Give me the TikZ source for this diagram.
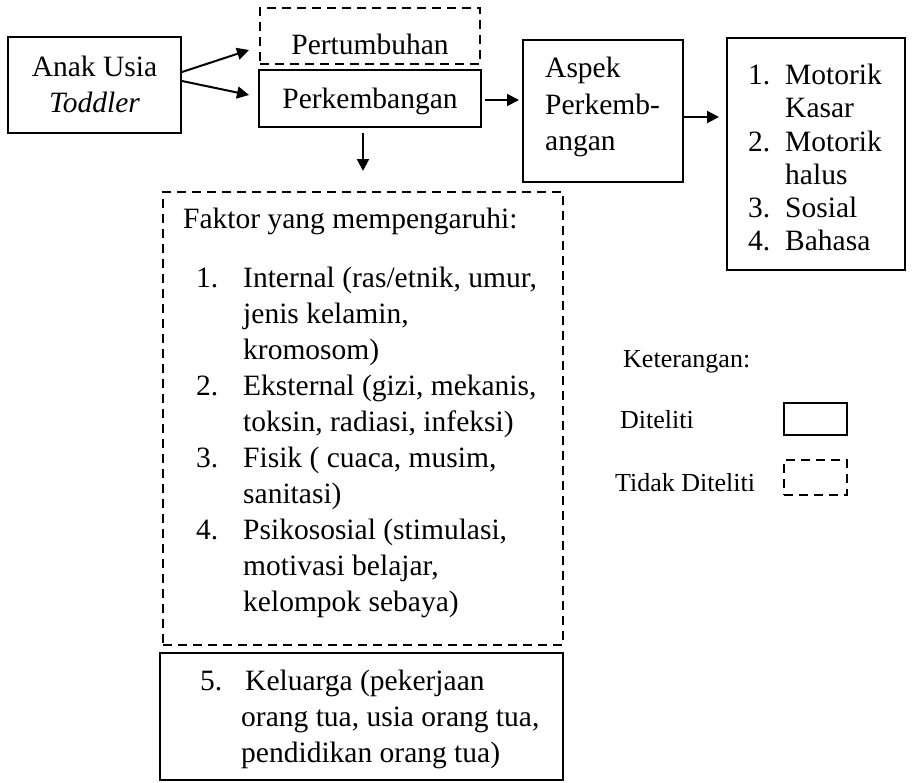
\documentclass[tikz,border=0pt]{standalone}
\usepackage{fontspec}
\setmainfont{Liberation Serif}
\usetikzlibrary{arrows.meta}
\begin{document}
\begin{tikzpicture}[x=1pt,y=-1pt,
  box/.style={draw, line width=2pt, inner sep=0pt},
  dbox/.style={box, dash pattern=on 9pt off 6pt},
  txt/.style={inner sep=0pt, anchor=base west, font=\fontsize{29.5}{36}\selectfont},
  ctxt/.style={txt, anchor=base},
  ltxt/.style={txt, font=\fontsize{26}{32}\selectfont},
  arr/.style={line width=2pt, -{Triangle[length=12pt,width=12pt]}}]
\useasboundingbox (0,0) rectangle (915,782);
% boxes
\node[box, minimum width=173pt, minimum height=96pt] (anak) at (94.5,85) {};
\node[dbox, minimum width=220pt, minimum height=56pt] (pert) at (370,36) {};
\node[box, minimum width=222pt, minimum height=57pt] (perk) at (370,98.5) {};
\node[box, minimum width=160pt, minimum height=142pt] (aspek) at (603,111) {};
\node[box, minimum width=178pt, minimum height=232pt] (list) at (816,154) {};
\node[dbox, minimum width=400pt, minimum height=453pt] (faktor) at (363,418.5) {};
\node[box, minimum width=403pt, minimum height=127pt] (kel) at (361.5,716.5) {};
\node[box, minimum width=63pt, minimum height=32pt] (dit) at (815.5,419) {};
\node[dbox, minimum width=63pt, minimum height=35pt] (tdk) at (815.5,477.5) {};
% texts
\node[ctxt] (t1) at (94.5,76) {Anak Usia};
\node[ctxt] (t2) at (94.5,112) {\itshape Toddler};
\node[ctxt] (t3) at (370,54) {Pertumbuhan};
\node[ctxt] (t4) at (370,108) {Perkembangan};
\node[txt] (a1) at (545,77) {Aspek};
\node[txt] (a2) at (545,114) {Perkemb-};
\node[txt] (a3) at (545,150) {angan};
\node[txt] (m1n) at (748,84) {1.};
\node[txt] (m1) at (785,84) {Motorik};
\node[txt] (m1b) at (785,117) {Kasar};
\node[txt] (m2n) at (748,151) {2.};
\node[txt] (m2) at (785,151) {Motorik};
\node[txt] (m2b) at (785,184) {halus};
\node[txt] (m3n) at (748,217) {3.};
\node[txt] (m3) at (785,217) {Sosial};
\node[txt] (m4n) at (748,250) {4.};
\node[txt] (m4) at (785,250) {Bahasa};
\node[txt] (fh) at (183,228) {Faktor yang mempengaruhi:};
\node[txt] (f1n) at (196,287) {1.};
\node[txt] (f1a) at (243,287) {Internal (ras/etnik, umur,};
\node[txt] (f1b) at (243,323) {jenis kelamin,};
\node[txt] (f1c) at (243,359) {kromosom)};
\node[txt] (f2n) at (196,395) {2.};
\node[txt] (f2a) at (243,395) {Eksternal (gizi, mekanis,};
\node[txt] (f2b) at (243,431) {toksin, radiasi, infeksi)};
\node[txt] (f3n) at (196,467) {3.};
\node[txt] (f3a) at (243,467) {Fisik ( cuaca, musim,};
\node[txt] (f3b) at (243,503) {sanitasi)};
\node[txt] (f4n) at (196,539) {4.};
\node[txt] (f4a) at (243,539) {Psikososial (stimulasi,};
\node[txt] (f4b) at (243,575) {motivasi belajar,};
\node[txt] (f4c) at (243,611) {kelompok sebaya)};
\node[txt] (k5n) at (200,690) {5.};
\node[txt] (k5a) at (245,690) {Keluarga (pekerjaan};
\node[txt] (k5b) at (241,726) {orang tua, usia orang tua,};
\node[txt] (k5c) at (241,762) {pendidikan orang tua)};
\node[ltxt] (lk) at (623,367) {Keterangan:};
\node[ltxt] (ld) at (620,428) {Diteliti};
\node[ltxt] (lt) at (615,491) {Tidak Diteliti};
% arrows
\coordinate (dtip) at ([yshift=20pt]faktor.north);
\draw[arr] ([yshift=13pt]anak.east) -- ([xshift=-10pt,yshift=-14pt]pert.west);
\draw[arr] ([yshift=4pt]anak.east) -- ([xshift=-9pt,yshift=3.5pt]perk.west);
\draw[arr] ([xshift=3pt,yshift=-1.5pt]perk.east) -- ([xshift=-3pt,yshift=11pt]aspek.west);
\draw[arr] ([yshift=-6pt]aspek.east) -- ([xshift=-7pt,yshift=37pt]list.west);
\draw[arr] ([xshift=-7pt,yshift=-5pt]perk.south) -- (dtip);
\end{tikzpicture}
\end{document}
